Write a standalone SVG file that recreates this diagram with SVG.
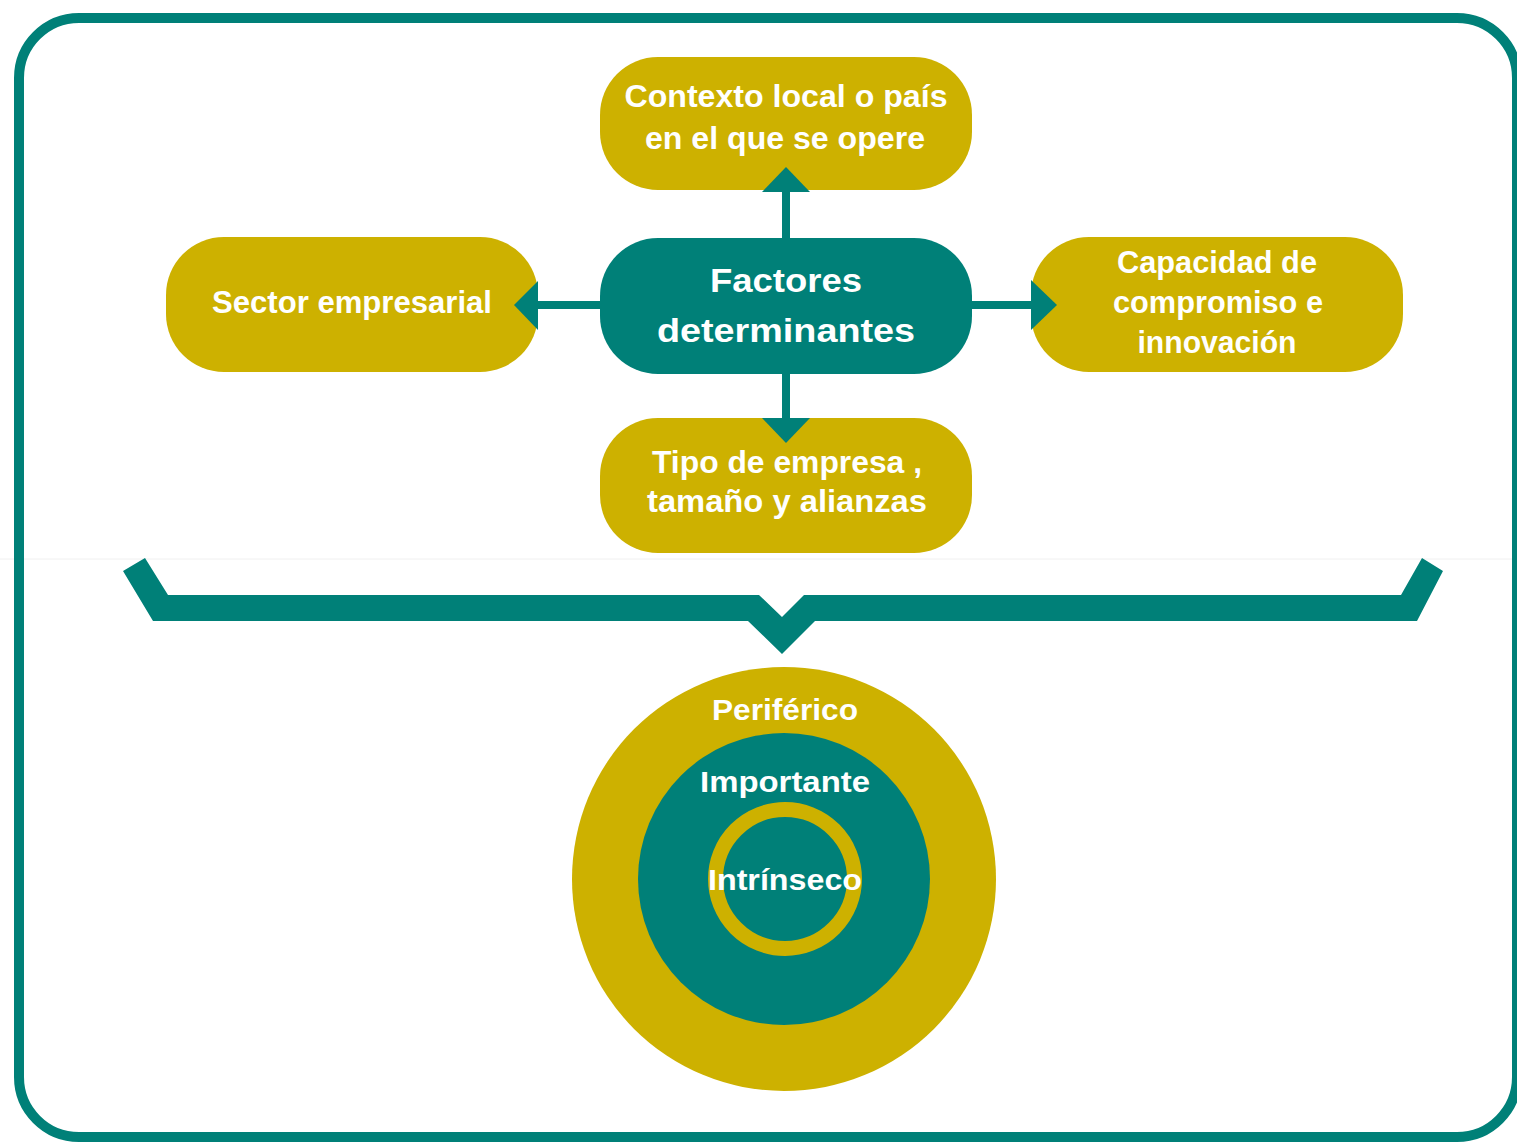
<svg xmlns="http://www.w3.org/2000/svg" width="1517" height="1142" viewBox="0 0 1517 1142">
<style>
.gold{fill:#CDB100}
.teal{fill:#008078}
.lbl{font-family:"Liberation Sans",Arial,sans-serif;font-weight:bold;fill:#ffffff;text-anchor:middle}
.conn{stroke:#008078;stroke-width:8;fill:none}
.head{fill:#008078}
</style>
<rect x="0" y="0" width="1517" height="1142" fill="#ffffff"/>
<line x1="0" y1="559" x2="1517" y2="559" stroke="#f0f0f0" stroke-width="1"/>
<rect id="frame" x="19" y="18" width="1498" height="1119" rx="60" ry="60" fill="none" stroke="#008078" stroke-width="10"/>

<g id="node-contexto">
<rect class="gold" x="600" y="57" width="372" height="133" rx="58"/>
<text class="lbl" font-size="31" x="786" y="107" textLength="323" lengthAdjust="spacingAndGlyphs">Contexto local o país</text>
<text class="lbl" font-size="31" x="785" y="149" textLength="280" lengthAdjust="spacingAndGlyphs">en el que se opere</text>
</g>
<g id="node-sector">
<rect class="gold" x="166" y="237" width="372" height="135" rx="58"/>
<text class="lbl" font-size="31" x="352" y="313" textLength="280" lengthAdjust="spacingAndGlyphs">Sector empresarial</text>
</g>
<g id="node-factores">
<rect class="teal" x="600" y="238" width="372" height="136" rx="58"/>
<text class="lbl" font-size="34" x="786" y="292" textLength="152" lengthAdjust="spacingAndGlyphs">Factores</text>
<text class="lbl" font-size="34" x="786" y="342" textLength="258" lengthAdjust="spacingAndGlyphs">determinantes</text>
</g>
<g id="node-capacidad">
<rect class="gold" x="1031" y="237" width="372" height="135" rx="58"/>
<text class="lbl" font-size="31" x="1217" y="273" textLength="200" lengthAdjust="spacingAndGlyphs">Capacidad de</text>
<text class="lbl" font-size="31" x="1218" y="313" textLength="210" lengthAdjust="spacingAndGlyphs">compromiso e</text>
<text class="lbl" font-size="31" x="1217" y="353" textLength="159" lengthAdjust="spacingAndGlyphs">innovación</text>
</g>
<g id="node-tipo">
<rect class="gold" x="600" y="418" width="372" height="135" rx="58"/>
<text class="lbl" font-size="31" x="787" y="473" textLength="270" lengthAdjust="spacingAndGlyphs">Tipo de empresa ,</text>
<text class="lbl" font-size="31" x="787" y="512" textLength="280" lengthAdjust="spacingAndGlyphs">tamaño y alianzas</text>
</g>

<g id="connectors">
<line class="conn" x1="786" y1="238" x2="786" y2="190"/>
<polygon class="head" points="762,192 810,192 786,167"/>
<line class="conn" x1="600" y1="305" x2="536" y2="305"/>
<polygon class="head" points="538,281 538,330 514,305"/>
<line class="conn" x1="972" y1="305" x2="1033" y2="305"/>
<polygon class="head" points="1031,280 1031,330 1057,305"/>
<line class="conn" x1="786" y1="374" x2="786" y2="420"/>
<polygon class="head" points="762,418 810,418 786,443"/>
</g>

<g id="bracket">
<polygon class="teal" points="123,571 145,558 168,595 759,595 782,617 804,595 1401,595 1422,558 1443,571 1417,621 815,621 782,654 748,621 153,621"/>
</g>

<g id="circles">
<circle class="gold" cx="784" cy="879" r="212"/>
<circle class="teal" cx="784" cy="879" r="146"/>
<circle cx="785" cy="879" r="69.5" fill="none" stroke="#CDB100" stroke-width="15"/>
<text class="lbl" font-size="30" x="785" y="720" textLength="146" lengthAdjust="spacingAndGlyphs">Periférico</text>
<text class="lbl" font-size="30" x="785" y="792" textLength="170" lengthAdjust="spacingAndGlyphs">Importante</text>
<text class="lbl" font-size="30" x="785" y="890" textLength="154" lengthAdjust="spacingAndGlyphs">Intrínseco</text>
</g>
</svg>
